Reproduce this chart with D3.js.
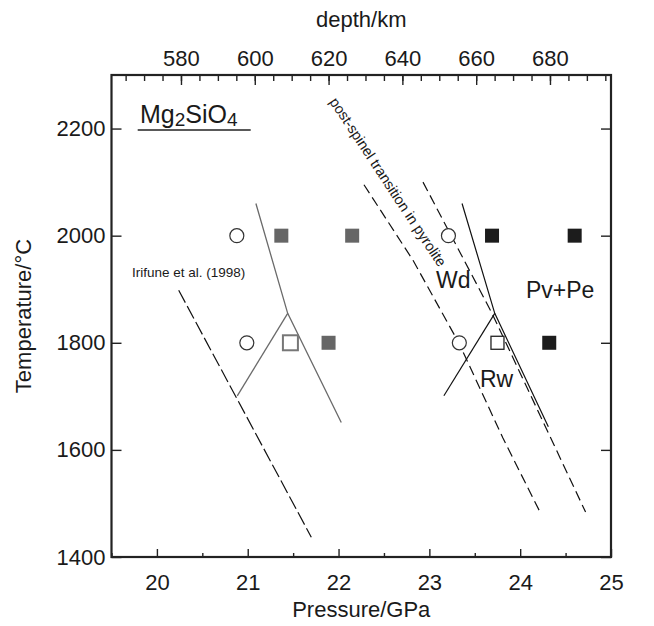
<!DOCTYPE html>
<html>
<head>
<meta charset="utf-8">
<script src="https://cdn.jsdelivr.net/npm/d3@7"></script>
<style>
  body { margin: 0; background: #fff; }
  svg text { font-family: "Liberation Sans", Arial, Helvetica, sans-serif; fill: #1a1a1a; }
</style>
</head>
<body>
<div class="chart"></div>
<script>
// tick values
var pressureTicks = [20, 21, 22, 23, 24, 25];
var pressureMinor = [19.5, 20.5, 21.5, 22.5, 23.5, 24.5];
var tempTicks = [1400, 1600, 1800, 2000, 2200];
var depthTicks = [580, 600, 620, 640, 660, 680];
var depthMinor = d3.range(565, 700, 5);

// experiment points (pressure GPa, temperature C)
var openCircles = [[20.88, 2000], [20.99, 1800], [23.21, 2000], [23.33, 1800]];
var grayFilled = [[21.37, 2000], [22.15, 2000], [21.89, 1800]];
var grayOpen = [[21.47, 1800]];
var blackFilled = [[23.69, 2000], [24.60, 2000], [24.32, 1800]];
var blackOpen = [[23.75, 1800]];

// phase boundaries
var grayBoundaries = [
	[[21.09, 2060], [21.44, 1855], [22.03, 1651]],
	[[20.885, 1701], [21.44, 1855]]
];
var blackBoundaries = [
	[[23.36, 2060], [23.72, 1855], [24.31, 1643]],
	[[23.16, 1701], [23.72, 1855]]
];
var irifune = [[20.24, 1898], [21.70, 1437]];
var pyroliteLeft = [[22.28, 2095], [22.82, 1954], [23.33, 1798], [23.81, 1622], [24.23, 1480]];
var pyroliteRight = [[22.93, 2100], [23.69, 1855], [24.72, 1484]];

// depth km -> pressure GPa
var depthToP = d3.scaleLinear().domain([580, 680]).range([20.265, 24.328]);

var margin = {top: 75, right: 43, bottom: 69, left: 111.5};
var W = 654, H = 626;
var width = W - margin.left - margin.right;
var height = H - margin.top - margin.bottom;

var svg = d3.select(".chart").append("svg")
	.attr("width", W)
	.attr("height", H);

var g = svg.append("g")
	.attr("transform", "translate(" + margin.left + "," + margin.top + ")");

var x = d3.scaleLinear().domain([19.5, 25]).range([0, width]);
var y = d3.scaleLinear().domain([1400, 2300]).range([height, 0]);

// axes (ticks pointing inside)
function styleAxis(sel) {
	sel.select(".domain").remove();
	sel.selectAll(".tick line").attr("stroke", "#222").attr("stroke-width", 1.4);
	sel.selectAll(".tick text").attr("font-size", 22).attr("fill", "#1a1a1a")
		.style("font-family", '"Liberation Sans", Arial, sans-serif');
}

g.append("g")
	.attr("transform", "translate(0," + height + ")")
	.call(d3.axisBottom(x).tickValues(pressureMinor).tickSize(-4).tickFormat(""))
	.call(styleAxis);
g.append("g")
	.attr("transform", "translate(0," + height + ")")
	.call(d3.axisBottom(x).tickValues(pressureTicks).tickSize(-8).tickPadding(17).tickFormat(d3.format("d")))
	.call(styleAxis);

g.append("g")
	.call(d3.axisLeft(y).tickValues(tempTicks).tickSize(-10).tickPadding(6).tickFormat(d3.format("d")))
	.call(styleAxis);
g.append("g")
	.attr("transform", "translate(" + width + ",0)")
	.call(d3.axisRight(y).tickValues(tempTicks).tickSize(-10).tickFormat(""))
	.call(styleAxis);

var xd = function(d) { return x(depthToP(d)); };
var xDepth = d3.scaleLinear().domain([580, 680]).range([xd(580), xd(680)]);
g.append("g")
	.call(d3.axisTop(xDepth).tickValues(depthMinor.filter(function(d) { return xd(d) > 1 && xd(d) < width - 1; })).tickSize(-6).tickFormat(""))
	.call(styleAxis);
g.append("g")
	.call(d3.axisTop(xDepth).tickValues(depthTicks).tickSize(-10).tickPadding(9).tickFormat(d3.format("d")))
	.call(styleAxis);

// frame
g.append("rect")
	.attr("width", width)
	.attr("height", height)
	.attr("fill", "none")
	.attr("stroke", "#222")
	.attr("stroke-width", 2.2);

// axis titles
svg.append("text")
	.attr("x", margin.left + width / 2)
	.attr("y", 27)
	.attr("text-anchor", "middle")
	.attr("font-size", 22)
	.text("depth/km");
svg.append("text")
	.attr("x", margin.left + width / 2)
	.attr("y", 617)
	.attr("text-anchor", "middle")
	.attr("font-size", 22)
	.text("Pressure/GPa");
svg.append("text")
	.attr("transform", "translate(31," + (margin.top + height / 2) + ") rotate(-90)")
	.attr("text-anchor", "middle")
	.attr("font-size", 22)
	.text("Temperature/\u00B0C");

var line = d3.line()
	.x(function(d) { return x(d[0]); })
	.y(function(d) { return y(d[1]); });

// lines
g.append("path").datum(irifune)
	.attr("d", line).attr("fill", "none")
	.attr("stroke", "#111").attr("stroke-width", 1.2)
	.attr("stroke-dasharray", "14,4");

g.selectAll(".pyro")
	.data([pyroliteLeft, pyroliteRight])
	.enter()
	.append("path")
	.attr("d", line).attr("fill", "none")
	.attr("stroke", "#111").attr("stroke-width", 1.2)
	.attr("stroke-dasharray", "10,5");

g.selectAll(".grayb")
	.data(grayBoundaries)
	.enter()
	.append("path")
	.attr("d", line).attr("fill", "none")
	.attr("stroke", "#6a6a6a").attr("stroke-width", 1.3);

g.selectAll(".blackb")
	.data(blackBoundaries)
	.enter()
	.append("path")
	.attr("d", line).attr("fill", "none")
	.attr("stroke", "#111").attr("stroke-width", 1.2);

// markers
function squares(data, size, fill, stroke, sw) {
	g.selectAll(null)
		.data(data)
		.enter()
		.append("rect")
		.attr("x", function(d) { return x(d[0]) - size / 2; })
		.attr("y", function(d) { return y(d[1]) - size / 2; })
		.attr("width", size)
		.attr("height", size)
		.attr("fill", fill)
		.attr("stroke", stroke)
		.attr("stroke-width", sw);
}
squares(grayFilled, 14, "#666", "none", 0);
squares(blackFilled, 14, "#1c1c1c", "none", 0);
squares(grayOpen, 15, "#fff", "#777", 2);
squares(blackOpen, 13, "#fff", "#222", 1.3);

g.selectAll(".circ")
	.data(openCircles)
	.enter()
	.append("circle")
	.attr("cx", function(d) { return x(d[0]); })
	.attr("cy", function(d) { return y(d[1]); })
	.attr("r", 7)
	.attr("fill", "#fff")
	.attr("stroke", "#333")
	.attr("stroke-width", 1.2);

// labels
var mg = svg.append("text")
	.attr("x", 140)
	.attr("y", 123)
	.attr("font-size", 25);
mg.append("tspan").text("Mg");
mg.append("tspan").attr("font-size", 19).attr("dy", 3).text("2");
mg.append("tspan").attr("dy", -3).text("SiO");
mg.append("tspan").attr("font-size", 19).attr("dy", 3).text("4");
svg.append("line")
	.attr("x1", 137.7).attr("x2", 250.7)
	.attr("y1", 130).attr("y2", 130)
	.attr("stroke", "#222").attr("stroke-width", 1.5);

svg.append("text")
	.attr("x", 132)
	.attr("y", 277)
	.attr("font-size", 13.5)
	.text("Irifune et al. (1998)");

svg.append("text")
	.attr("transform", "translate(388,182) rotate(56.6)")
	.attr("text-anchor", "middle")
	.attr("dominant-baseline", "central")
	.attr("font-size", 14.5)
	.text("post-spinel transition in pyrolite");

svg.append("text").attr("x", 436).attr("y", 288).attr("font-size", 23).text("Wd");
svg.append("text").attr("x", 526).attr("y", 298).attr("font-size", 23).text("Pv+Pe");
svg.append("text").attr("x", 480).attr("y", 387).attr("font-size", 23).text("Rw");
</script>
</body>
</html>
